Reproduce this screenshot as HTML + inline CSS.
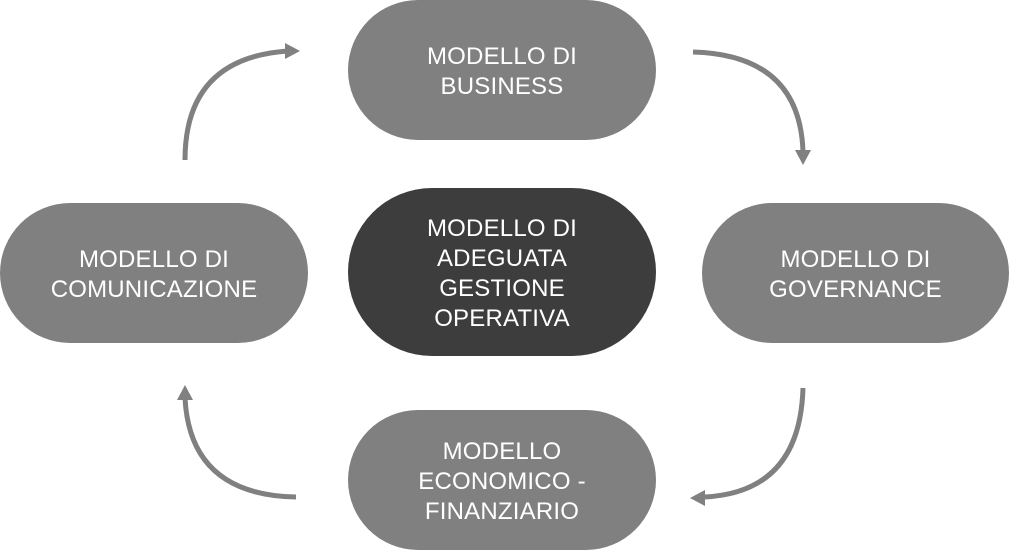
<!DOCTYPE html>
<html><head><style>
body{margin:0;width:1010px;height:552px;background:#fff;position:relative;overflow:hidden;font-family:"Liberation Sans",sans-serif}
.p{position:absolute;background:#808080;color:#fff;display:flex;align-items:center;justify-content:center;text-align:center;font-size:24px;line-height:30px;border-radius:70px;letter-spacing:0.2px;padding-top:4px;box-sizing:border-box}
.d{background:#3d3d3d;border-radius:84px}
svg{position:absolute;left:0;top:0}
</style></head><body>
<svg width="1010" height="552">
<g fill="none" stroke="#808080" stroke-width="5">
<path d="M185 160 Q185 58 288 51"/>
<path d="M693 52 Q800 55 803 152"/>
<path d="M803 388 Q800 492 705 497"/>
<path d="M296 497 Q190 495 185 398"/>
</g>
<g fill="#808080">
<polygon points="300,51 285,43 285,59"/>
<polygon points="803,165 795,150 811,150"/>
<polygon points="690,498 705,490 705,506"/>
<polygon points="185,385 177,400 193,400"/>
</g>
</svg>
<div class="p" style="left:348px;top:0;width:308px;height:140px">MODELLO DI<br>BUSINESS</div>
<div class="p d" style="left:348px;top:188px;width:308px;height:168px">MODELLO DI<br>ADEGUATA<br>GESTIONE<br>OPERATIVA</div>
<div class="p" style="left:0;top:203px;width:308px;height:140px">MODELLO DI<br>COMUNICAZIONE</div>
<div class="p" style="left:702px;top:203px;width:307px;height:140px">MODELLO DI<br>GOVERNANCE</div>
<div class="p" style="left:348px;top:410px;width:308px;height:140px">MODELLO<br>ECONOMICO -<br>FINANZIARIO</div>
</body></html>
